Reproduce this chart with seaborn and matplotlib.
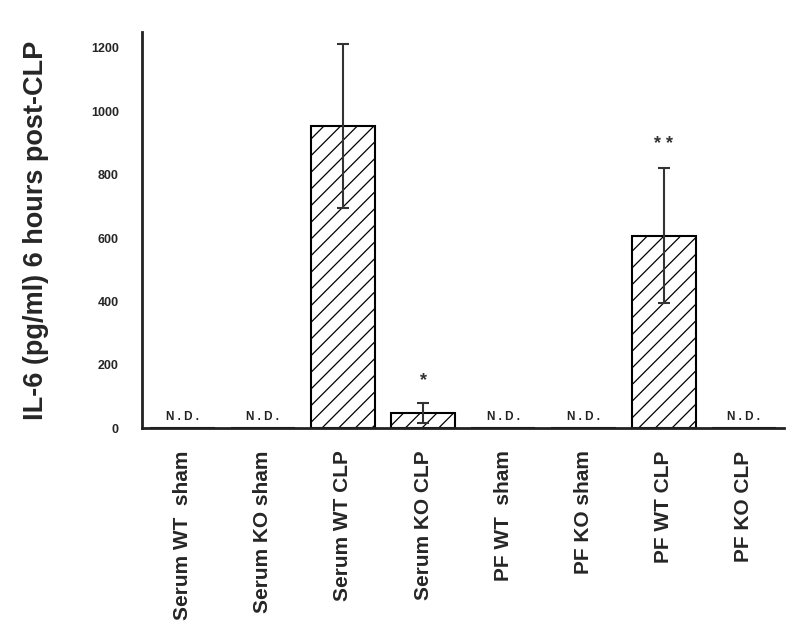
import numpy as np
import pandas as pd
import matplotlib
matplotlib.use("Agg")
import matplotlib.pyplot as plt
import seaborn as sns

groups = ["Serum WT  sham", "Serum KO sham", "Serum WT CLP", "Serum KO CLP",
          "PF WT  sham", "PF KO sham", "PF WT CLP", "PF KO CLP"]
il6 = [0, 0, 953, 47, 0, 0, 608, 0]
il6_sd = [0, 0, 258, 32, 0, 0, 214, 0]
not_detected = [True, True, False, False, True, True, False, True]
stars = ["", "", "", "*", "", "", "* *", ""]

sns.set_style("white")
plt.rcParams["font.family"] = ["Liberation Sans", "DejaVu Sans"]
plt.rcParams["hatch.linewidth"] = 0.9

df = pd.DataFrame({"group": groups, "il6": il6})

fig, ax = plt.subplots(figsize=(8, 6.42), dpi=100)
sns.barplot(data=df, x="group", y="il6", color="white", edgecolor="black",
            linewidth=1.5, width=0.8, errorbar=None, ax=ax)
for p in ax.patches:
    p.set_hatch("//")

xs = np.arange(len(groups))
mask = np.array(il6) > 0
ax.errorbar(xs[mask], np.array(il6)[mask], yerr=np.array(il6_sd)[mask],
            fmt="none", ecolor="#333333", elinewidth=1.5, capsize=4, capthick=1.5)

for i in range(len(groups)):
    if not_detected[i]:
        ax.text(xs[i], 18, "N . D .", ha="center", va="bottom",
                fontsize=8.5, fontweight="bold", color="#222222")
    if stars[i]:
        ax.text(xs[i], il6[i] + il6_sd[i] + 45, stars[i], ha="center",
                va="bottom", fontsize=13, fontweight="bold", color="#333333")

ax.set_xlim(-0.5, 7.5)
ax.set_ylim(0, 1250)
ax.set_yticks([0, 200, 400, 600, 800, 1000, 1200])
ax.tick_params(axis="y", direction="in", length=8, width=1.5, labelsize=9, pad=17)
ax.tick_params(axis="x", length=0, labelsize=15, pad=16)
for lab in ax.get_yticklabels():
    lab.set_fontweight("bold")
plt.setp(ax.get_xticklabels(), rotation=90, fontweight="bold")

ax.set_xlabel("")
ax.set_ylabel("IL-6 (pg/ml) 6 hours post-CLP", fontsize=19.5, fontweight="bold", labelpad=30)

sns.despine(ax=ax)
for s in ["left", "bottom"]:
    ax.spines[s].set_linewidth(2)
    ax.spines[s].set_color("#222222")

fig.subplots_adjust(left=0.178, right=0.98, top=0.95, bottom=0.333)
fig.savefig("out.png", dpi=100)
